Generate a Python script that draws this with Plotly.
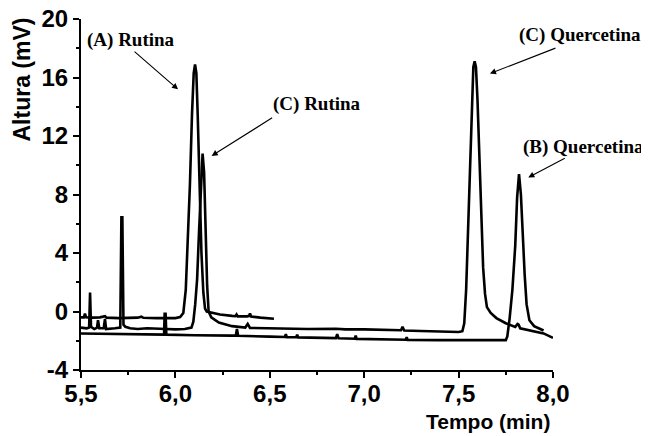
import plotly.graph_objects as go

# ---- data (time in min, height in mV) ----
t_a = [5.500, 5.515, 5.521, 5.527, 5.560, 5.600, 5.627, 5.635, 5.700, 5.800, 5.820, 5.830,
       5.900, 5.950, 6.000, 6.025, 6.042, 6.055, 6.065, 6.077, 6.088, 6.097, 6.104, 6.111,
       6.118, 6.127, 6.138, 6.148, 6.157, 6.166, 6.200, 6.236, 6.300, 6.318, 6.324, 6.330,
       6.380, 6.390, 6.395, 6.401, 6.450, 6.522]
y_a = [-0.40, -0.40, -0.15, -0.40, -0.42, -0.40, -0.32, -0.42, -0.45, -0.42, -0.35, -0.43,
       -0.45, -0.47, -0.45, -0.38, -0.10, 1.50, 4.50, 8.70, 13.5, 16.3, 16.9, 16.3,
       13.5, 8.70, 4.00, 1.30, 0.20, 0.00, -0.12, -0.20, -0.30, -0.32, -0.20, -0.33,
       -0.33, -0.30, -0.14, -0.34, -0.42, -0.50]

t_c = [5.500, 5.530, 5.543, 5.548, 5.553, 5.570, 5.585, 5.590, 5.597, 5.620, 5.627, 5.633,
       5.680, 5.708, 5.714, 5.719, 5.725, 5.735, 5.760, 5.800, 5.850, 5.900, 5.950, 6.000,
       6.050, 6.085, 6.095, 6.105, 6.115, 6.125, 6.135, 6.144, 6.152, 6.160, 6.168, 6.176,
       6.190, 6.230, 6.300, 6.370, 6.383, 6.395, 6.500, 6.700, 6.850, 6.900, 7.000, 7.195,
       7.203, 7.212, 7.300, 7.400, 7.480, 7.500, 7.520, 7.530, 7.540, 7.550, 7.560, 7.570,
       7.578, 7.585, 7.592, 7.600, 7.610, 7.620, 7.630, 7.640, 7.650, 7.670, 7.700, 7.750,
       7.800, 7.812, 7.818, 7.826, 7.900, 7.950, 8.000]
y_c = [-1.10, -1.15, -1.10, 1.30, -1.05, -1.20, -1.10, -0.60, -1.15, -1.15, -0.50, -1.20,
       -1.15, -1.10, 6.44, 6.44, -0.90, -1.05, -1.15, -1.20, -1.15, -1.20, -1.20, -1.22,
       -1.20, -1.10, -0.70, 0.50, 2.20, 5.40, 8.80, 10.8, 9.50, 5.40, 1.80, 0.00,
       -0.40, -0.75, -1.00, -1.10, -0.85, -1.12, -1.15, -1.20, -1.18, -1.22, -1.22, -1.28,
       -1.05, -1.30, -1.33, -1.38, -1.40, -1.40, -1.35, -0.80, 1.50, 5.50, 10.0, 14.5,
       16.7, 17.1, 16.7, 14.5, 10.5, 6.00, 3.00, 1.20, 0.30, -0.10, -0.45, -0.80,
       -1.05, -0.85, -0.90, -1.15, -1.35, -1.50, -1.80]

t_b = [5.500, 5.600, 5.700, 5.800, 5.900, 5.940, 5.943, 5.948, 5.952, 6.000, 6.100, 6.300,
       6.320, 6.326, 6.332, 6.500, 6.580, 6.585, 6.590, 6.640, 6.645, 6.650, 6.850, 6.857,
       6.864, 6.950, 6.955, 6.960, 7.100, 7.220, 7.225, 7.230, 7.400, 7.600, 7.700, 7.750,
       7.758, 7.770, 7.785, 7.800, 7.810, 7.820, 7.830, 7.840, 7.850, 7.860, 7.875, 7.900,
       7.950]
y_b = [-1.50, -1.52, -1.55, -1.55, -1.58, -1.58, -0.15, -0.15, -1.58, -1.60, -1.62, -1.65,
       -1.65, -1.20, -1.66, -1.72, -1.74, -1.55, -1.75, -1.76, -1.58, -1.77, -1.82, -1.55,
       -1.83, -1.86, -1.65, -1.87, -1.90, -1.93, -1.75, -1.94, -1.96, -1.98, -1.98, -1.96,
       -1.70, -0.50, 1.50, 4.50, 7.80, 9.40, 8.00, 5.00, 2.50, 0.50, -0.60, -1.00,
       -1.30]

x_ticks = [5.5, 6.0, 6.5, 7.0, 7.5, 8.0]
x_tick_text = ["5,5", "6,0", "6,5", "7,0", "7,5", "8,0"]
y_ticks = [-4, 0, 4, 8, 12, 16, 20]

label_texts = ["(A) Rutina", "(C) Rutina", "(C) Quercetina", "(B) Quercetina"]
arrow_x = [6.014, 6.192, 7.666, 7.869]
arrow_y = [15.19, 10.64, 16.27, 9.17]
text_x = [5.526, 6.510, 7.815, 7.836]
text_y = [18.58, 14.19, 18.90, 11.25]

# arrow tail offsets (px)
tail_dx = [-45, 62, 67, 38]
tail_dy = [-39, -39, -26, -20]

fig = go.Figure()
for tx, ty in [(t_b, y_b), (t_c, y_c), (t_a, y_a)]:
    fig.add_trace(go.Scatter(x=tx, y=ty, mode="lines",
                             line=dict(color="black", width=2.6),
                             showlegend=False, hoverinfo="skip"))

for i, text in enumerate(label_texts):
    fig.add_annotation(x=arrow_x[i], y=arrow_y[i], xref="x", yref="y", text="",
                       showarrow=True, ax=tail_dx[i], ay=tail_dy[i], arrowhead=2,
                       arrowsize=1.1, arrowwidth=1.1, arrowcolor="black")
    fig.add_annotation(x=text_x[i], y=text_y[i], xref="x", yref="y",
                       text="<b>%s</b>" % text, showarrow=False,
                       xanchor="left", yanchor="middle", borderpad=0,
                       font=dict(family="Liberation Serif", size=19, color="black"))

fig.add_annotation(x=0.998, y=-0.148, xref="paper", yref="paper",
                   text="<b>Tempo (min)</b>", showarrow=False, xanchor="right",
                   yanchor="middle",
                   font=dict(family="Liberation Sans", size=21, color="black"))
fig.add_annotation(x=-0.125, y=1.01, xref="paper", yref="paper",
                   text="<b>Altura (mV)</b>", showarrow=False, textangle=-90,
                   xanchor="center", yanchor="top",
                   font=dict(family="Liberation Sans", size=23, color="black"))

axis_common = dict(showgrid=False, zeroline=False, showline=True, linecolor="black",
                   linewidth=2, ticks="outside", ticklen=6, tickwidth=2,
                   tickcolor="black", automargin=False, ticklabeloverflow="allow",
                   tickfont=dict(family="Liberation Sans", size=24, color="black"))

fig.update_xaxes(range=[5.5, 8.0], tickvals=x_ticks,
                 ticktext=["<b>%s</b>" % s for s in x_tick_text],
                 ticklabelstandoff=-5,
                 minor=dict(dtick=0.25, ticks="outside", ticklen=3, tickwidth=2,
                            tickcolor="black", showgrid=False),
                 **axis_common)
fig.update_yaxes(range=[-4, 20], tickvals=y_ticks,
                 ticktext=["<b>%d</b>" % v for v in y_ticks],
                 minor=dict(dtick=2, ticks="outside", ticklen=3, tickwidth=2,
                            tickcolor="black", showgrid=False),
                 **axis_common)

fig.update_layout(width=641, height=428, margin=dict(l=73, r=96, t=11, b=66),
                  plot_bgcolor="white", paper_bgcolor="white")

fig.write_html("out.html")
